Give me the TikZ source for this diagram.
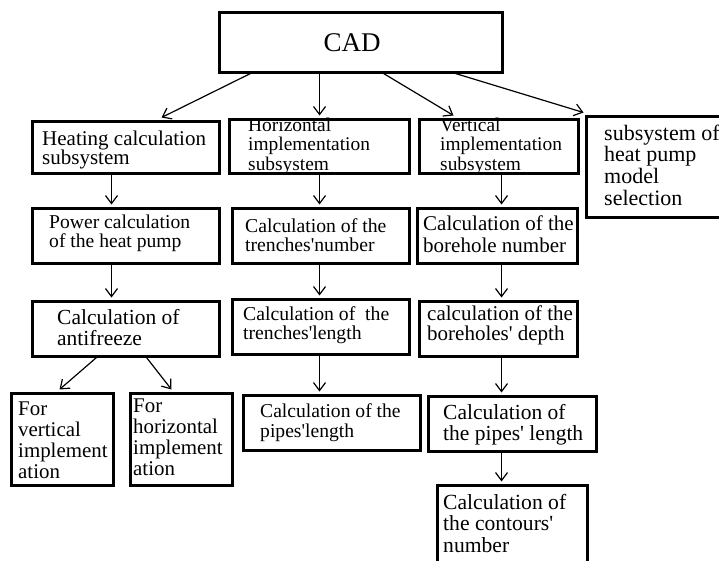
\documentclass[tikz,border=0pt]{standalone}
\usepackage{fontspec}
\setmainfont{Liberation Serif}
\usetikzlibrary{arrows.meta,calc}
\newcommand\bx[5]{\node[boxst, minimum width={(#4-#2)*1pt}, minimum height={(#5-#3)*1pt}] (#1) at ({(#2+#4)/2},{(#3+#5)/2}) {};}
\newcommand\tx[6]{\node[txt, font=\fontsize{#4}{#5}\selectfont] (#1) at (#2,{#3-0.8*#4}) {\rule{0pt}{0.8em}#6};}
\newcommand\q{\textquotesingle}
\begin{document}
\begin{tikzpicture}[x=1pt,y=-1pt,
  boxst/.style={draw=black, line width=3pt, inner sep=0pt, fill=none},
  txt/.style={anchor=north west, inner sep=0pt, align=left},
  arr/.style={-{Straight Barb[length=8pt,width=12pt]}, line width=1.2pt}]
\clip (0,0) rectangle (719,560);
\fill[white] (0,0) rectangle (719,560);
% boxes
\bx{cad}{219}{12}{502}{72}
\bx{heat}{32}{121}{219}{173}
\bx{horiz}{229}{119}{409}{173}
\bx{vert}{419}{119}{578}{173}
\bx{sel}{586}{116}{740}{217}
\bx{power}{32}{208}{219}{263}
\bx{trnum}{232}{208}{409}{263}
\bx{bhnum}{417}{208}{577}{263}
\bx{anti}{32}{301}{219}{356}
\bx{trlen}{232}{299}{409}{354}
\bx{bhdep}{419}{301}{577}{356}
\bx{forv}{11}{393}{113}{485}
\bx{forh}{130}{393}{232}{485}
\bx{pipeh}{243}{395}{420}{450}
\bx{pipev}{428}{396}{596}{451}
\bx{cont}{437}{485}{587}{580}
% texts
\node[inner sep=0pt, font=\fontsize{27}{30}\selectfont] (cad-t) at (352,43) {CAD};
\tx{heat-t}{42}{145}{21}{19.5}{Heating calculation\\subsystem}
\tx{horiz-t}{248}{131}{19.4}{19.5}{Horizontal\\implementation\\subsystem}
\tx{vert-t}{440}{131}{19.4}{19.5}{Vertical\\implementation\\subsystem}
\tx{sel-t}{604}{140}{22}{21.7}{subsystem of\\heat pump\\model\\selection}
\tx{power-t}{49}{228}{19.6}{19}{Power calculation\\of the heat pump}
\tx{trnum-t}{245}{232}{19.7}{19}{Calculation of the\\trenches\q number}
\tx{bhnum-t}{423}{230}{21}{22}{Calculation of the\\borehole number}
\tx{anti-t}{57}{324}{21.5}{21}{Calculation of\\antifreeze}
\tx{trlen-t}{243}{320}{19.7}{19}{Calculation of \ the\\trenches\q length}
\tx{bhdep-t}{427}{320}{21}{20}{calculation of the\\boreholes\q{} depth}
\tx{forv-t}{18}{415}{20.9}{21}{For\\vertical\\implement\\ation}
\tx{forh-t}{133}{412}{20.9}{21}{For\\horizontal\\implement\\ation}
\tx{pipeh-t}{260}{417}{19.6}{20}{Calculation of the\\pipes\q length}
\tx{pipev-t}{443}{419}{21.5}{21}{Calculation of\\the pipes\q{} length}
\tx{cont-t}{443}{509}{21.6}{21.5}{Calculation of\\the contours\q\\number}
% arrows
\draw[arr] ($(cad.south west)+(33,0)$) -- ($(heat.north west)+(131,-2)$);
\draw[arr] ($(cad.south west)+(102,0)$) -- ($(horiz.north west)+(92,-2)$);
\draw[arr] ($(cad.south west)+(166,0)$) -- ($(vert.north west)+(36,-2)$);
\draw[arr] ($(cad.south west)+(238,0)$) -- ($(sel.north west)+(-1,-2)$);
\draw[arr] ($(heat.south west)+(81,0)$) -- ($(power.north west)+(81,-2)$);
\draw[arr] ($(horiz.south west)+(92,0)$) -- ($(trnum.north west)+(89,-2)$);
\draw[arr] ($(vert.south west)+(84,0)$) -- ($(bhnum.north west)+(86,-2)$);
\draw[arr] ($(power.south west)+(81,0)$) -- ($(anti.north west)+(81,-2)$);
\draw[arr] ($(trnum.south west)+(89,0)$) -- ($(trlen.north west)+(89,-2)$);
\draw[arr] ($(bhnum.south west)+(86,0)$) -- ($(bhdep.north west)+(84,-2)$);
\draw[arr] ($(anti.south west)+(66,0)$) -- ($(forv.north west)+(50,-2)$);
\draw[arr] ($(anti.south west)+(116,0)$) -- ($(forh.north west)+(43,-2)$);
\draw[arr] ($(trlen.south west)+(89,0)$) -- ($(pipeh.north west)+(78,-2)$);
\draw[arr] ($(bhdep.south west)+(84,0)$) -- ($(pipev.north west)+(75,-2)$);
\draw[arr] ($(pipev.south west)+(75,0)$) -- ($(cont.north west)+(66,-2)$);
\end{tikzpicture}
\end{document}
